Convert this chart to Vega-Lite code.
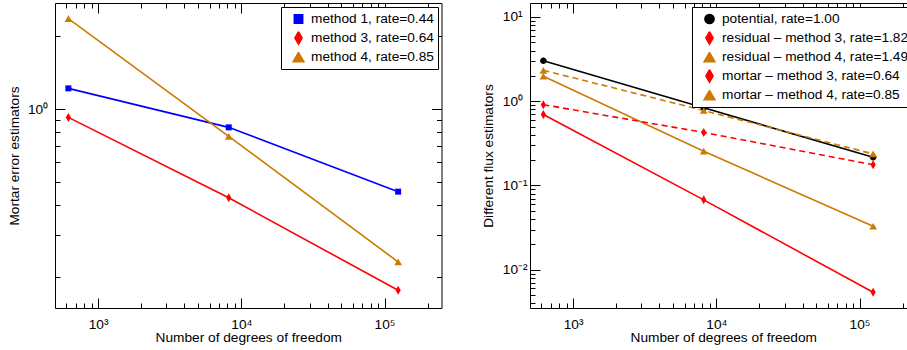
{
  "$schema": "https://vega.github.io/schema/vega-lite/v6.json",
  "padding": {"left": 6, "top": 2, "right": 0, "bottom": 0},
  "background": "white",
  "bounds": "flush",
  "spacing": 88,
  "resolve": {"scale": {"color": "independent", "shape": "independent"}, "legend": {"color": "independent", "shape": "independent"}},
  "config": {
    "view": {"stroke": "black", "strokeWidth": 1},
    "axis": {"grid": false, "domain": false, "tickColor": "black", "tickWidth": 1, "labelFont": "Liberation Sans", "labelFontSize": 13.7, "labelColor": "black", "titleFont": "Liberation Sans", "titleFontSize": 13.7, "titleFontWeight": "normal", "titleColor": "black", "labelFlush": false, "labelOverlap": false},
    "legend": {"title": null, "orient": "top-right", "offset": 4, "padding": 4, "strokeColor": "black", "fillColor": "white", "cornerRadius": 0, "labelFont": "Liberation Sans", "labelFontSize": 13.7, "labelColor": "black", "labelLimit": 500, "labelOffset": 10, "rowPadding": 1, "symbolSize": 196, "symbolStrokeWidth": 1.5}
  },
  "datasets": {
    "left": [
      {"n": 620, "v": 1.218, "s": "method 1, rate=0.44"},
      {"n": 8170, "v": 0.839, "s": "method 1, rate=0.44"},
      {"n": 124500, "v": 0.454, "s": "method 1, rate=0.44"},
      {"n": 620, "v": 0.923, "s": "method 3, rate=0.64"},
      {"n": 8170, "v": 0.428, "s": "method 3, rate=0.64"},
      {"n": 124500, "v": 0.177, "s": "method 3, rate=0.64"},
      {"n": 620, "v": 2.37, "s": "method 4, rate=0.85"},
      {"n": 8170, "v": 0.77, "s": "method 4, rate=0.85"},
      {"n": 124500, "v": 0.232, "s": "method 4, rate=0.85"}
    ],
    "right": [
      {"n": 620, "v": 3.02, "s": "potential, rate=1.00", "d": "solid"},
      {"n": 8170, "v": 0.835, "s": "potential, rate=1.00", "d": "solid"},
      {"n": 124500, "v": 0.216, "s": "potential, rate=1.00", "d": "solid"},
      {"n": 620, "v": 0.695, "s": "residual – method 3, rate=1.82", "d": "solid"},
      {"n": 8170, "v": 0.0675, "s": "residual – method 3, rate=1.82", "d": "solid"},
      {"n": 124500, "v": 0.0054, "s": "residual – method 3, rate=1.82", "d": "solid"},
      {"n": 620, "v": 1.98, "s": "residual – method 4, rate=1.49", "d": "solid"},
      {"n": 8170, "v": 0.255, "s": "residual – method 4, rate=1.49", "d": "solid"},
      {"n": 124500, "v": 0.0328, "s": "residual – method 4, rate=1.49", "d": "solid"},
      {"n": 620, "v": 0.91, "s": "mortar – method 3, rate=0.64", "d": "dashed"},
      {"n": 8170, "v": 0.426, "s": "mortar – method 3, rate=0.64", "d": "dashed"},
      {"n": 124500, "v": 0.176, "s": "mortar – method 3, rate=0.64", "d": "dashed"},
      {"n": 620, "v": 2.33, "s": "mortar – method 4, rate=0.85", "d": "dashed"},
      {"n": 8170, "v": 0.776, "s": "mortar – method 4, rate=0.85", "d": "dashed"},
      {"n": 124500, "v": 0.237, "s": "mortar – method 4, rate=0.85", "d": "dashed"}
    ]
  },
  "hconcat": [
    {
      "width": 386.5,
      "height": 305,
      "data": {"name": "left"},
      "resolve": {"axis": {"x": "independent", "y": "independent"}},
      "layer": [
        {
          "mark": {"type": "line", "strokeWidth": 1.6},
          "encoding": {
            "x": {"field": "n", "type": "quantitative", "scale": {"type": "log", "domain": [500, 250000], "nice": false},
              "axis": {"orient": "bottom", "values": [1000, 10000, 100000], "labelExpr": "datum.value < 5000 ? '10³' : datum.value < 50000 ? '10⁴' : '10⁵'", "tickSize": -10, "labelPadding": 19, "title": "Number of degrees of freedom", "titlePadding": 0}},
            "y": {"field": "v", "type": "quantitative", "scale": {"type": "log", "domain": [0.1494, 2.753], "nice": false},
              "axis": {"orient": "left", "values": [1], "labelExpr": "'10⁰'", "tickSize": -10, "labelPadding": 37.5, "labelAlign": "left", "labelBaseline": "middle", "title": "Mortar error estimators", "titlePadding": 6.5}},
            "color": {"field": "s", "type": "nominal", "scale": {"domain": ["method 1, rate=0.44", "method 3, rate=0.64", "method 4, rate=0.85"], "range": ["#0000ff", "#ff0000", "#cc7a00"]},
              "legend": {"encoding": {
                "legend": {"stroke": {"value": "black"}, "strokeWidth": {"value": 1}, "fill": {"value": "white"}},
                "symbols": {
                "x": {"value": 13.5},
                "shape": {"value": {"expr": "['M-1.93,0H1.93M-0.32,-0.32H0.32V0.32H-0.32Z','M-1.93,0H1.93M0,-0.54L0.26,0L0,0.54L-0.26,0Z','M-1.93,0H1.93M0,-0.37L0.44,0.37L-0.44,0.37Z'][datum.index]"}},
                "fill": {"value": {"expr": "['#0000ff','#ff0000','#cc7a00'][datum.index]"}},
                "stroke": {"value": {"expr": "['#0000ff','#ff0000','#cc7a00'][datum.index]"}},
                "strokeWidth": {"value": 1.5}, "strokeDash": {"value": [100, 0]}, "size": {"value": 196}, "opacity": {"value": 1}}}}}
          }
        },
        {
          "mark": {"type": "point", "filled": true, "opacity": 1, "size": 100},
          "encoding": {
            "x": {"field": "n", "type": "quantitative",
              "axis": {"orient": "bottom", "values": [600, 700, 800, 900, 2000, 3000, 4000, 5000, 6000, 7000, 8000, 9000, 20000, 30000, 40000, 50000, 60000, 70000, 80000, 90000, 200000], "labels": false, "tickSize": -5, "title": null}},
            "y": {"field": "v", "type": "quantitative",
              "axis": {"orient": "left", "values": [0.2, 0.3, 0.4, 0.5, 0.6, 0.7, 0.8, 0.9, 2], "labels": false, "tickSize": -5, "title": null}},
            "color": {"field": "s", "type": "nominal",
              "legend": {"encoding": {
                "legend": {"stroke": {"value": "black"}, "strokeWidth": {"value": 1}, "fill": {"value": "white"}},
                "symbols": {
                "x": {"value": 13.5},
                "shape": {"value": {"expr": "['M-1.93,0H1.93M-0.32,-0.32H0.32V0.32H-0.32Z','M-1.93,0H1.93M0,-0.54L0.26,0L0,0.54L-0.26,0Z','M-1.93,0H1.93M0,-0.37L0.44,0.37L-0.44,0.37Z'][datum.index]"}},
                "fill": {"value": {"expr": "['#0000ff','#ff0000','#cc7a00'][datum.index]"}},
                "stroke": {"value": {"expr": "['#0000ff','#ff0000','#cc7a00'][datum.index]"}},
                "strokeWidth": {"value": 1.5}, "strokeDash": {"value": [100, 0]}, "size": {"value": 196}, "opacity": {"value": 1}}}}},
            "shape": {"field": "s", "type": "nominal", "scale": {"domain": ["method 1, rate=0.44", "method 3, rate=0.64", "method 4, rate=0.85"], "range": ["M-0.6,-0.6H0.6V0.6H-0.6Z", "M0,-0.9L0.52,0L0,0.9L-0.52,0Z", "M0,-0.67L0.77,0.67L-0.77,0.67Z"]},
              "legend": {"encoding": {
                "legend": {"stroke": {"value": "black"}, "strokeWidth": {"value": 1}, "fill": {"value": "white"}},
                "symbols": {
                "x": {"value": 13.5},
                "shape": {"value": {"expr": "['M-1.93,0H1.93M-0.32,-0.32H0.32V0.32H-0.32Z','M-1.93,0H1.93M0,-0.54L0.26,0L0,0.54L-0.26,0Z','M-1.93,0H1.93M0,-0.37L0.44,0.37L-0.44,0.37Z'][datum.index]"}},
                "fill": {"value": {"expr": "['#0000ff','#ff0000','#cc7a00'][datum.index]"}},
                "stroke": {"value": {"expr": "['#0000ff','#ff0000','#cc7a00'][datum.index]"}},
                "strokeWidth": {"value": 1.5}, "strokeDash": {"value": [100, 0]}, "size": {"value": 196}, "opacity": {"value": 1}}}}}
          }
        },
        {
          "mark": {"type": "point", "opacity": 0},
          "encoding": {
            "x": {"field": "n", "type": "quantitative", "axis": {"orient": "top", "values": [1000, 10000, 100000], "labels": false, "tickSize": -10, "title": null}},
            "y": {"field": "v", "type": "quantitative", "axis": {"orient": "right", "values": [1], "labels": false, "tickSize": -10, "title": null}}
          }
        },
        {
          "mark": {"type": "point", "opacity": 0},
          "encoding": {
            "x": {"field": "n", "type": "quantitative", "axis": {"orient": "top", "values": [600, 700, 800, 900, 2000, 3000, 4000, 5000, 6000, 7000, 8000, 9000, 20000, 30000, 40000, 50000, 60000, 70000, 80000, 90000, 200000], "labels": false, "tickSize": -5, "title": null}},
            "y": {"field": "v", "type": "quantitative", "axis": {"orient": "right", "values": [0.2, 0.3, 0.4, 0.5, 0.6, 0.7, 0.8, 0.9, 2], "labels": false, "tickSize": -5, "title": null}}
          }
        }
      ]
    },
    {
      "width": 386.5,
      "height": 305,
      "data": {"name": "right"},
      "resolve": {"axis": {"x": "independent", "y": "independent"}},
      "layer": [
        {
          "transform": [{"filter": "datum.d === 'solid'"}],
          "mark": {"type": "line", "strokeWidth": 1.6},
          "encoding": {
            "x": {"field": "n", "type": "quantitative", "scale": {"type": "log", "domain": [500, 250000], "nice": false},
              "axis": {"orient": "bottom", "values": [1000, 10000, 100000], "labelExpr": "datum.value < 5000 ? '10³' : datum.value < 50000 ? '10⁴' : '10⁵'", "tickSize": -10, "labelPadding": 19, "title": "Number of degrees of freedom", "titlePadding": 0}},
            "y": {"field": "v", "type": "quantitative", "scale": {"type": "log", "domain": [0.003511, 14.66], "nice": false},
              "axis": {"orient": "left", "values": [0.01, 0.1, 1, 10], "labelExpr": "datum.value < 0.05 ? '10⁻²' : datum.value < 0.5 ? '10⁻¹' : datum.value < 5 ? '10⁰' : '10¹'", "tickSize": -10, "labelPadding": 37.7, "labelAlign": "left", "labelBaseline": "middle", "title": "Different flux estimators", "titlePadding": 6.5}},
            "color": {"field": "s", "type": "nominal", "scale": {"domain": ["potential, rate=1.00", "residual – method 3, rate=1.82", "residual – method 4, rate=1.49", "mortar – method 3, rate=0.64", "mortar – method 4, rate=0.85"], "range": ["#000000", "#ff0000", "#cc7a00", "#ff0000", "#cc7a00"]},
              "legend": {"encoding": {
                "legend": {"stroke": {"value": "black"}, "strokeWidth": {"value": 1}, "fill": {"value": "white"}},
                "symbols": {
                "x": {"value": 13.5},
                "shape": {"value": {"expr": "['M-1.93,0H1.93M0.36,0A0.36,0.36,0,1,1,-0.36,0A0.36,0.36,0,1,1,0.36,0Z','M-1.93,0H1.93M0,-0.54L0.26,0L0,0.54L-0.26,0Z','M-1.93,0H1.93M0,-0.37L0.44,0.37L-0.44,0.37Z','M-1.93,0H-1.26M1.26,0H1.93M0,-0.54L0.26,0L0,0.54L-0.26,0Z','M-1.93,0H-1.26M1.26,0H1.93M0,-0.37L0.44,0.37L-0.44,0.37Z'][datum.index]"}},
                "fill": {"value": {"expr": "['#000000','#ff0000','#cc7a00','#ff0000','#cc7a00'][datum.index]"}},
                "stroke": {"value": {"expr": "['#000000','#ff0000','#cc7a00','#ff0000','#cc7a00'][datum.index]"}},
                "strokeWidth": {"value": 1.5}, "strokeDash": {"value": [100, 0]}, "size": {"value": 196}, "opacity": {"value": 1}}}}}
          }
        },
        {
          "transform": [{"filter": "datum.d === 'dashed'"}],
          "mark": {"type": "line", "strokeWidth": 1.6, "strokeDash": [6, 4]},
          "encoding": {
            "x": {"field": "n", "type": "quantitative",
              "axis": {"orient": "bottom", "values": [600, 700, 800, 900, 2000, 3000, 4000, 5000, 6000, 7000, 8000, 9000, 20000, 30000, 40000, 50000, 60000, 70000, 80000, 90000, 200000], "labels": false, "tickSize": -5, "title": null}},
            "y": {"field": "v", "type": "quantitative",
              "axis": {"orient": "left", "values": [0.004, 0.005, 0.006, 0.007, 0.008, 0.009, 0.02, 0.03, 0.04, 0.05, 0.06, 0.07, 0.08, 0.09, 0.2, 0.3, 0.4, 0.5, 0.6, 0.7, 0.8, 0.9, 2, 3, 4, 5, 6, 7, 8, 9], "labels": false, "tickSize": -5, "title": null}},
            "color": {"field": "s", "type": "nominal",
              "legend": {"encoding": {
                "legend": {"stroke": {"value": "black"}, "strokeWidth": {"value": 1}, "fill": {"value": "white"}},
                "symbols": {
                "x": {"value": 13.5},
                "shape": {"value": {"expr": "['M-1.93,0H1.93M0.36,0A0.36,0.36,0,1,1,-0.36,0A0.36,0.36,0,1,1,0.36,0Z','M-1.93,0H1.93M0,-0.54L0.26,0L0,0.54L-0.26,0Z','M-1.93,0H1.93M0,-0.37L0.44,0.37L-0.44,0.37Z','M-1.93,0H-1.26M1.26,0H1.93M0,-0.54L0.26,0L0,0.54L-0.26,0Z','M-1.93,0H-1.26M1.26,0H1.93M0,-0.37L0.44,0.37L-0.44,0.37Z'][datum.index]"}},
                "fill": {"value": {"expr": "['#000000','#ff0000','#cc7a00','#ff0000','#cc7a00'][datum.index]"}},
                "stroke": {"value": {"expr": "['#000000','#ff0000','#cc7a00','#ff0000','#cc7a00'][datum.index]"}},
                "strokeWidth": {"value": 1.5}, "strokeDash": {"value": [100, 0]}, "size": {"value": 196}, "opacity": {"value": 1}}}}}
          }
        },
        {
          "mark": {"type": "point", "filled": true, "opacity": 1, "size": 100},
          "encoding": {
            "x": {"field": "n", "type": "quantitative", "axis": {"orient": "top", "values": [1000, 10000, 100000], "labels": false, "tickSize": -10, "title": null}},
            "y": {"field": "v", "type": "quantitative", "axis": {"orient": "right", "values": [0.01, 0.1, 1, 10], "labels": false, "tickSize": -10, "title": null}},
            "color": {"field": "s", "type": "nominal",
              "legend": {"encoding": {
                "legend": {"stroke": {"value": "black"}, "strokeWidth": {"value": 1}, "fill": {"value": "white"}},
                "symbols": {
                "x": {"value": 13.5},
                "shape": {"value": {"expr": "['M-1.93,0H1.93M0.36,0A0.36,0.36,0,1,1,-0.36,0A0.36,0.36,0,1,1,0.36,0Z','M-1.93,0H1.93M0,-0.54L0.26,0L0,0.54L-0.26,0Z','M-1.93,0H1.93M0,-0.37L0.44,0.37L-0.44,0.37Z','M-1.93,0H-1.26M1.26,0H1.93M0,-0.54L0.26,0L0,0.54L-0.26,0Z','M-1.93,0H-1.26M1.26,0H1.93M0,-0.37L0.44,0.37L-0.44,0.37Z'][datum.index]"}},
                "fill": {"value": {"expr": "['#000000','#ff0000','#cc7a00','#ff0000','#cc7a00'][datum.index]"}},
                "stroke": {"value": {"expr": "['#000000','#ff0000','#cc7a00','#ff0000','#cc7a00'][datum.index]"}},
                "strokeWidth": {"value": 1.5}, "strokeDash": {"value": [100, 0]}, "size": {"value": 196}, "opacity": {"value": 1}}}}},
            "shape": {"field": "s", "type": "nominal", "scale": {"domain": ["potential, rate=1.00", "residual – method 3, rate=1.82", "residual – method 4, rate=1.49", "mortar – method 3, rate=0.64", "mortar – method 4, rate=0.85"], "range": ["M0.66,0A0.66,0.66,0,1,1,-0.66,0A0.66,0.66,0,1,1,0.66,0Z", "M0,-0.9L0.52,0L0,0.9L-0.52,0Z", "M0,-0.67L0.77,0.67L-0.77,0.67Z", "M0,-0.9L0.52,0L0,0.9L-0.52,0Z", "M0,-0.67L0.77,0.67L-0.77,0.67Z"]},
              "legend": {"encoding": {
                "legend": {"stroke": {"value": "black"}, "strokeWidth": {"value": 1}, "fill": {"value": "white"}},
                "symbols": {
                "x": {"value": 13.5},
                "shape": {"value": {"expr": "['M-1.93,0H1.93M0.36,0A0.36,0.36,0,1,1,-0.36,0A0.36,0.36,0,1,1,0.36,0Z','M-1.93,0H1.93M0,-0.54L0.26,0L0,0.54L-0.26,0Z','M-1.93,0H1.93M0,-0.37L0.44,0.37L-0.44,0.37Z','M-1.93,0H-1.26M1.26,0H1.93M0,-0.54L0.26,0L0,0.54L-0.26,0Z','M-1.93,0H-1.26M1.26,0H1.93M0,-0.37L0.44,0.37L-0.44,0.37Z'][datum.index]"}},
                "fill": {"value": {"expr": "['#000000','#ff0000','#cc7a00','#ff0000','#cc7a00'][datum.index]"}},
                "stroke": {"value": {"expr": "['#000000','#ff0000','#cc7a00','#ff0000','#cc7a00'][datum.index]"}},
                "strokeWidth": {"value": 1.5}, "strokeDash": {"value": [100, 0]}, "size": {"value": 196}, "opacity": {"value": 1}}}}}
          }
        },
        {
          "mark": {"type": "point", "opacity": 0},
          "encoding": {
            "x": {"field": "n", "type": "quantitative", "axis": {"orient": "top", "values": [600, 700, 800, 900, 2000, 3000, 4000, 5000, 6000, 7000, 8000, 9000, 20000, 30000, 40000, 50000, 60000, 70000, 80000, 90000, 200000], "labels": false, "tickSize": -5, "title": null}},
            "y": {"field": "v", "type": "quantitative", "axis": {"orient": "right", "values": [0.004, 0.005, 0.006, 0.007, 0.008, 0.009, 0.02, 0.03, 0.04, 0.05, 0.06, 0.07, 0.08, 0.09, 0.2, 0.3, 0.4, 0.5, 0.6, 0.7, 0.8, 0.9, 2, 3, 4, 5, 6, 7, 8, 9], "labels": false, "tickSize": -5, "title": null}}
          }
        }
      ]
    }
  ]
}
